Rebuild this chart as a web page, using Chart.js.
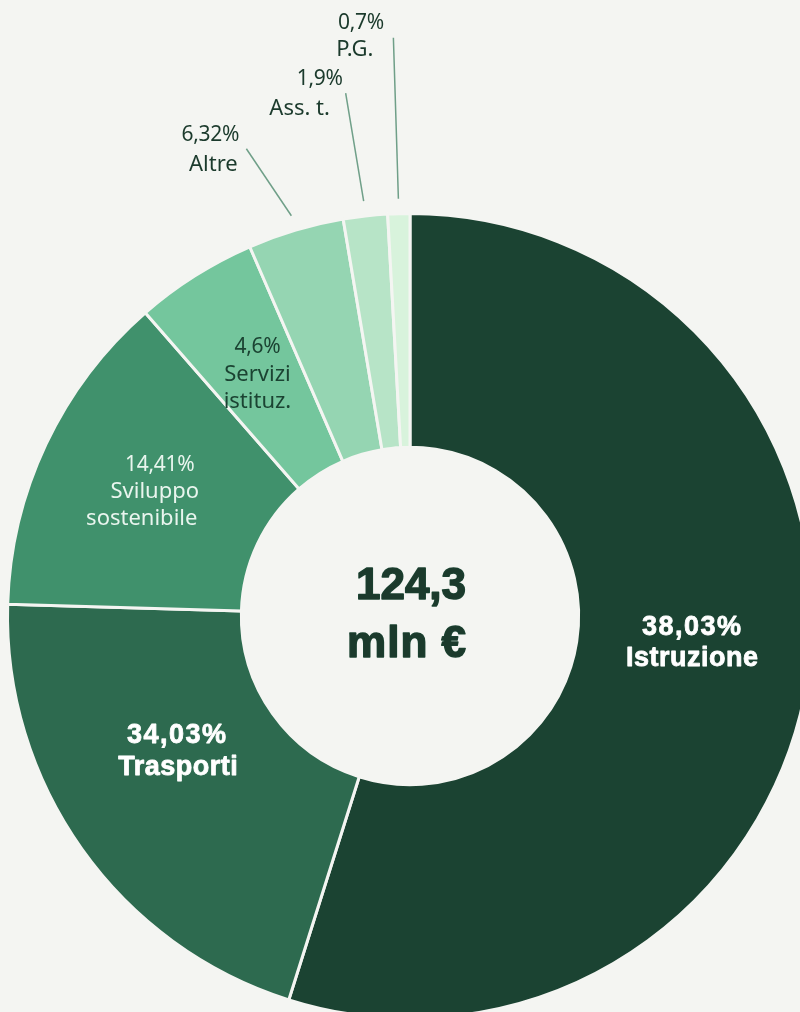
<!DOCTYPE html>
<html lang="it">
<head>
<meta charset="utf-8">
<title>Ripartizione della spesa</title>
<script src="https://cdn.jsdelivr.net/npm/chart.js@4.4.1/dist/chart.umd.min.js"></script>
<style>
  html, body { margin: 0; padding: 0; background: #f4f5f2; }
  #contenitore { position: relative; width: 800px; height: 1012px; overflow: hidden; background: #f4f5f2; }
  #grafico { position: absolute; left: 0; top: 0; }
</style>
</head>
<body>
<div id="contenitore">
  <canvas id="grafico" width="820" height="1232"></canvas>
</div>
<script>
// Settori, in senso orario partendo dall'alto
var settori = ["Istruzione", "Trasporti", "Sviluppo sostenibile", "Servizi istituz.", "Altre", "Ass. t.", "P.G."];
// Importi (mln €) stimati dall'ampiezza delle fette
var importi = [68.2, 25.6, 16.3, 6.1, 4.8, 2.2, 1.1];
// Percentuali così come scritte nelle etichette
var percentuali = ["38,03%", "34,03%", "14,41%", "4,6%", "6,32%", "1,9%", "0,7%"];
// Nome su una o più righe
var righeNome = [["Istruzione"], ["Trasporti"], ["Sviluppo", "sostenibile"], ["Servizi", "istituz."], ["Altre"], ["Ass. t."], ["P.G."]];
// Testo al centro
var totale = ["124,3", "mln €"];

var colori = ["#1b4332", "#2d6a4f", "#40916c", "#74c69d", "#95d5b2", "#b7e4c7", "#d8f3dc"];
var sfondo = "#f4f5f2";

// font: [riga percentuale, righe del nome]
var fontGrassetto = { perc: "bold 27px 'Liberation Sans', Arial, sans-serif", nome: "bold 27px 'Liberation Sans', Arial, sans-serif", spPerc: "1.5px", spNome: "0.5px", spessore: 0.8 };
var fontNormale = { perc: "21px 'Noto Sans', 'Open Sans', sans-serif", nome: "22px 'Noto Sans', 'Open Sans', sans-serif", spPerc: "-0.3px", spNome: "0px", spessore: 0 };

// Stile e spostamenti delle etichette (dentro la fetta o fuori con linea guida)
var stileEtichette = [
    { fuori: false, font: fontGrassetto, colore: "#ffffff", passo: 31, dx: 0, dy: -16, sx: [0, 0] },
    { fuori: false, font: fontGrassetto, colore: "#ffffff", passo: 32, dx: 0, dy: -30, sx: [0, 1] },
    { fuori: false, font: fontNormale, colore: "#e9f5ee", passo: 27, dx: -2, dy: -2, sx: [10, 5, -8] },
    { fuori: false, font: fontNormale, colore: "#1b4332", passo: 27.5, dx: 0, dy: 0, sx: [0, 0, 0] },
    { fuori: true, font: fontNormale, colore: "#1b3a2c", passo: 30, lx: -45, ly: -67, tx: -34, ty: 1, sx: [-2, 1] },
    { fuori: true, font: fontNormale, colore: "#1b3a2c", passo: 30, lx: -18, ly: -108, tx: -36, ty: 1, sx: [10, -10] },
    { fuori: true, font: fontNormale, colore: "#1b3a2c", passo: 27, lx: -5, ly: -161, tx: -35, ty: -1, sx: [2.5, -3.5] }
];

function scriviRighe(ctx, righe, x, y, st) {
    var inizio = y - (righe.length - 1) * st.passo / 2;
    for (var i = 0; i < righe.length; i++) {
        var f = st.font;
        ctx.font = i === 0 ? f.perc : f.nome;
        ctx.letterSpacing = i === 0 ? f.spPerc : f.spNome;
        var xx = x + (st.sx ? st.sx[i] : 0);
        var yy = inizio + i * st.passo;
        if (f.spessore > 0) {
            ctx.lineWidth = f.spessore;
            ctx.strokeStyle = st.colore;
            ctx.lineJoin = "round";
            ctx.strokeText(righe[i], xx, yy);
        }
        ctx.fillText(righe[i], xx, yy);
    }
}

// Plugin che disegna etichette, linee guida e totale centrale
var pluginEtichette = {
    id: "etichette",
    afterDatasetsDraw: function (chart) {
        var ctx = chart.ctx;
        var archi = chart.getDatasetMeta(0).data;
        ctx.save();
        ctx.textAlign = "center";
        ctx.textBaseline = "middle";
        archi.forEach(function (arco, i) {
            var p = arco.getProps(["x", "y", "startAngle", "endAngle", "innerRadius", "outerRadius"], true);
            var medio = (p.startAngle + p.endAngle) / 2;
            var st = stileEtichette[i];
            var righe = [percentuali[i]].concat(righeNome[i]);
            ctx.fillStyle = st.colore;
            if (!st.fuori) {
                var r = (p.innerRadius + p.outerRadius) / 2;
                var cx = p.x + Math.cos(medio) * r + st.dx;
                var cy = p.y + Math.sin(medio) * r + st.dy;
                scriviRighe(ctx, righe, cx, cy, st);
            } else {
                var r0 = p.outerRadius + 15;
                var x0 = p.x + Math.cos(medio) * r0;
                var y0 = p.y + Math.sin(medio) * r0;
                var x1 = x0 + st.lx;
                var y1 = y0 + st.ly;
                ctx.strokeStyle = "#6f9f88";
                ctx.lineWidth = 1.5;
                ctx.beginPath();
                ctx.moveTo(x0, y0);
                ctx.lineTo(x1, y1);
                ctx.stroke();
                scriviRighe(ctx, righe, x1 + st.tx, y1 + st.ty, st);
            }
        });
        // totale al centro
        var c = archi[0];
        var fc = "bold 44px 'Liberation Sans', Arial, sans-serif";
        scriviRighe(ctx, totale, c.x, c.y, {
            font: { perc: fc, nome: fc, spPerc: "0px", spNome: "1px", spessore: 1.5 },
            colore: "#1b4332", passo: 58, sx: [1, -3]
        });
        ctx.restore();
    }
};

document.addEventListener("DOMContentLoaded", function () {
    var ctx = document.getElementById("grafico");
    new Chart(ctx, {
        type: "doughnut",
        data: {
            labels: settori,
            datasets: [{
                data: importi,
                backgroundColor: colori,
                borderColor: sfondo,
                borderWidth: 3
            }]
        },
        options: {
            responsive: false,
            animation: false,
            radius: 402.5,
            cutout: "41.9%",
            plugins: {
                legend: { display: false },
                tooltip: { enabled: false }
            }
        },
        plugins: [pluginEtichette]
    });
});
</script>
</body>
</html>
